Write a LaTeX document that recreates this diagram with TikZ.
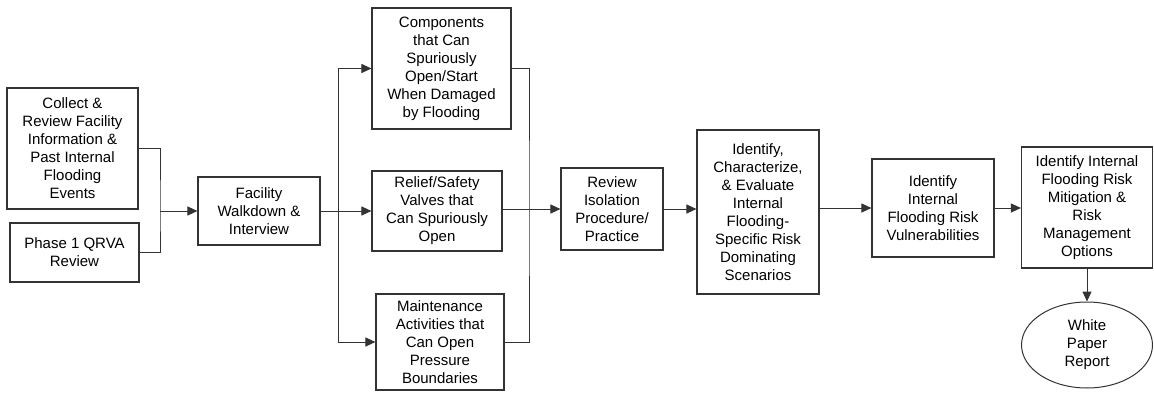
\documentclass[tikz,border=0pt]{standalone}
\usepackage{fontspec}
\setmainfont{Liberation Sans}
\usetikzlibrary{arrows.meta,shapes.geometric}
\begin{document}
\begin{tikzpicture}[x=1pt,y=-1pt,
  box/.style={draw=black!80,line width=1.1pt,align=center,inner sep=0pt,
    font=\fontsize{15}{18}\selectfont},
  oval/.style={ellipse,draw=black!80,line width=1pt,align=center,inner sep=0pt,
    font=\fontsize{15}{18}\selectfont},
  conn/.style={draw=black!80,line width=1pt},
  arr/.style={conn,-{Triangle[length=10pt,width=9pt]}}]
\useasboundingbox (0,0) rectangle (1154,396);
\node[box,minimum width=131pt,minimum height=121pt] (b1) at (72.5,148.5)
  {Collect \&\\Review Facility\\Information \&\\Past Internal\\Flooding\\Events};
\node[box,minimum width=129pt,minimum height=59pt] (b2) at (74.5,252.5)
  {Phase 1 QRVA\\Review};
\node[box,minimum width=122pt,minimum height=68pt] (b3) at (259,211)
  {Facility\\Walkdown \&\\Interview};
\node[box,minimum width=139pt,minimum height=121pt] (b4) at (441.5,68.5)
  {Components\\that Can\\Spuriously\\Open/Start\\When Damaged\\by Flooding};
\node[box,minimum width=130pt,minimum height=80pt] (b5) at (437,211)
  {Relief/Safety\\Valves that\\Can Spuriously\\Open};
\node[box,minimum width=128pt,minimum height=96pt] (b6) at (440,342)
  {Maintenance\\Activities that\\Can Open\\Pressure\\Boundaries};
\node[box,minimum width=102pt,minimum height=82pt] (b7) at (612,209)
  {Review\\Isolation\\Procedure/\\Practice};
\node[box,minimum width=122pt,minimum height=164pt] (b8) at (758,212)
  {Identify,\\Characterize,\\\& Evaluate\\Internal\\Flooding-\\Specific Risk\\Dominating\\Scenarios};
\node[box,minimum width=122pt,minimum height=98pt] (b9) at (933,208)
  {Identify\\Internal\\Flooding Risk\\Vulnerabilities};
\node[box,minimum width=131pt,minimum height=121pt] (b10) at (1087,207.5)
  {Identify Internal\\Flooding Risk\\Mitigation \&\\Risk\\Management\\Options};
\node[oval,minimum width=131pt,minimum height=86pt] (e1) at (1087,345)
  {White\\Paper\\Report};
\coordinate (j1) at (160,211);
\coordinate (j2) at (338,211);
\coordinate (j3) at (529,211);
\draw[conn] (b1.east) -| (j1) |- (b2.east);
\draw[arr] (j1) -- (b3.west);
\draw[arr] (b3.east) -- (b5.west);
\draw[arr] (j2) |- (b4.west);
\draw[arr] (j2) |- (b6.west);
\draw[conn] (b4.east) -| (j3) |- (b6.east);
\draw[arr] (b5.east |- b7.west) -- (b7.west);
\draw[arr] (b7.east) -- (b8.west |- b7.east);
\draw[arr] (b8.east |- b9.west) -- (b9.west);
\draw[arr] (b9.east) -- (b10.west |- b9.east);
\draw[arr] (b10.south) -- (e1.north);
\end{tikzpicture}
\end{document}
